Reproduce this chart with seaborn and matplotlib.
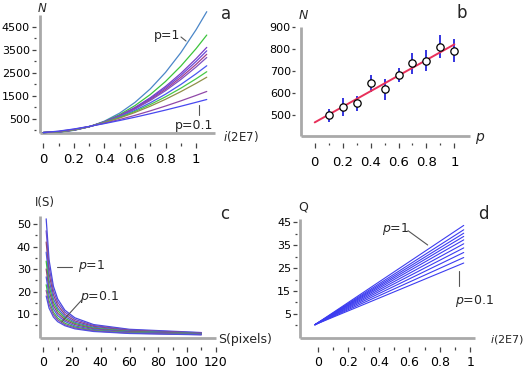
import numpy as np
import pandas as pd
import matplotlib
matplotlib.use("Agg")
import matplotlib.pyplot as plt
from matplotlib.lines import Line2D
import seaborn as sns

# ---------------- data ----------------
# panel a : N versus i (2E7) for several p
a_i = [0, 0.1, 0.2, 0.3, 0.4, 0.5, 0.6, 0.7, 0.8, 0.9, 1.0, 1.07]
a_N = [
    [-110, -92, -16, 138, 386, 737, 1203, 1791, 2510, 3367, 4368, 5155],
    [-110, -88, -8, 141, 366, 672, 1064, 1544, 2115, 2782, 3545, 4137],
    [-110, -85, -2, 143, 355, 634, 984, 1405, 1898, 2466, 3107, 3600],
    [-110, -84, -1, 144, 351, 623, 961, 1365, 1837, 2377, 2985, 3450],
    [-110, -83, 1, 144, 347, 611, 937, 1324, 1774, 2286, 2861, 3300],
    [-110, -82, 3, 145, 344, 600, 914, 1285, 1714, 2200, 2745, 3160],
    [-110, -79, 8, 146, 334, 570, 854, 1184, 1561, 1982, 2449, 2800],
    [-110, -76, 13, 148, 327, 547, 808, 1108, 1446, 1820, 2231, 2540],
    [-110, -72, 17, 149, 319, 525, 764, 1036, 1338, 1671, 2032, 2300],
    [-110, -60, 33, 153, 296, 458, 638, 834, 1045, 1269, 1507, 1680],
    [-110, -48, 45, 156, 280, 415, 558, 710, 869, 1035, 1207, 1330],
]
a_colors = ['#4a86c8', '#3cc43c', '#7a3cc8', '#6a48d8', '#a04090', '#8050c0',
            '#4858f0', '#48c848', '#909048', '#9048a8', '#4848f0']

# panel b : N versus p with error bars
b_p = [0.1, 0.2, 0.3, 0.4, 0.5, 0.6, 0.7, 0.8, 0.9, 1.0]
b_N = [501, 539, 554, 645, 618, 683, 736, 748, 812, 794]
b_err = [30, 42, 34, 38, 47, 30, 47, 47, 51, 53]

# panel c : I(S) versus S (pixels)
c_S = [2, 4, 7, 10, 15, 22, 35, 60, 110]
c_I = [
    [52.3, 34.1, 22.4, 16.7, 11.7, 8.3, 5.3, 3.2, 1.76],
    [47.0, 31.0, 20.5, 15.3, 10.8, 7.6, 4.9, 2.9, 1.62],
    [42.0, 27.9, 18.6, 13.9, 9.8, 6.9, 4.5, 2.7, 1.49],
    [37.5, 25.1, 16.8, 12.6, 8.9, 6.3, 4.1, 2.45, 1.36],
    [33.5, 22.6, 15.2, 11.5, 8.1, 5.8, 3.75, 2.24, 1.24],
    [30.0, 20.4, 13.8, 10.4, 7.4, 5.3, 3.43, 2.05, 1.14],
    [26.5, 18.2, 12.3, 9.3, 6.7, 4.7, 3.09, 1.85, 1.03],
    [23.0, 15.9, 10.8, 8.2, 5.9, 4.2, 2.74, 1.64, 0.91],
    [20.5, 14.3, 9.8, 7.4, 5.3, 3.8, 2.49, 1.49, 0.83],
    [18.0, 12.6, 8.7, 6.6, 4.8, 3.4, 2.23, 1.34, 0.75],
]
c_colors = ['#4848e0', '#6a50d0', '#904878', '#5058e0', '#40b840',
            '#904878', '#5058e0', '#40b840', '#9050a0', '#5050e0']

# panel d : Q versus i (2E7), straight lines
d_i = [-0.02, 0.957]
d_start = 0.3
d_end = [43.6, 41.7, 40.2, 38.8, 37.3, 35.6, 33.8, 31.8, 29.6, 27.2]

# tick labels
a_xt = [0, 0.2, 0.4, 0.6, 0.8, 1.0]
a_xl = ['0', '0.2', '0.4', '0.6', '0.8', '1']
a_yt = [500, 1500, 2500, 3500, 4500]
c_xt = [0, 20, 40, 60, 80, 100, 120]
c_yt = [10, 20, 30, 40, 50]
d_yt = [5, 15, 25, 35, 45]
b_yt = [500, 600, 700, 800, 900]

# ---------------- figure ----------------
sns.set_theme(style="white")
plt.rcParams['font.family'] = ['DejaVu Sans']
plt.rcParams['mathtext.fontset'] = 'dejavusans'

W, H = 524, 368
PT = 0.72
fig = plt.figure(figsize=(W / 100, H / 100), dpi=100)
fig.patch.set_facecolor('white')
AXC = '#a9a9a9'
TK = '#444444'


def make_ax(l, t, r, b, xlim, ylim):
    ax = fig.add_axes([l / W, 1 - b / H, (r - l) / W, (b - t) / H])
    ax.patch.set_alpha(0)
    for s in ax.spines.values():
        s.set_visible(False)
    ax.plot([0, 1], [0, 0], transform=ax.transAxes, color=AXC, lw=2,
            clip_on=False, solid_capstyle='butt', zorder=0)
    ax.plot([0, 0], [0, 1], transform=ax.transAxes, color=AXC, lw=2,
            clip_on=False, solid_capstyle='butt', zorder=0)
    ax.set_xlim(xlim)
    ax.set_ylim(ylim)
    return ax


def set_ticks(ax, xt, xl, xm, yt, yl, ym, xout, yout, xpad, ypad,
              xlen=5, ylen=4, xfs=9.5, yfs=8):
    ax.spines['bottom'].set_position(('outward', xout * PT))
    ax.spines['left'].set_position(('outward', yout * PT))
    ax.set_xticks(xt, xl)
    ax.set_xticks(xm, minor=True)
    ax.set_yticks(yt, yl)
    ax.set_yticks(ym, minor=True)
    ax.tick_params(axis='x', which='both', bottom=True, top=False,
                   direction='out', color=TK, width=0.9, labelcolor='black')
    ax.tick_params(axis='y', which='both', left=True, right=False,
                   direction='out', color=TK, width=0.9, labelcolor='black')
    ax.tick_params(axis='x', which='major', length=xlen * PT, pad=xpad * PT, labelsize=xfs)
    ax.tick_params(axis='x', which='minor', length=xlen * 0.55 * PT)
    ax.tick_params(axis='y', which='major', length=ylen * PT, pad=ypad * PT, labelsize=yfs)
    ax.tick_params(axis='y', which='minor', length=2 * PT)
    ax.set_xlabel('')
    ax.set_ylabel('')


def ftext(x, y, s, ha='center', va='center', **kw):
    fig.text(x / W, 1 - y / H, s, ha=ha, va=va, **kw)


def fline(x1, y1, x2, y2):
    fig.add_artist(Line2D([x1 / W, x2 / W], [1 - y1 / H, 1 - y2 / H],
                          color='#555555', lw=0.8))


# ---- panel a ----
axa = make_ax(40, 15, 215, 133, (-0.0216, 1.124), (-130, 5011))
dfa = pd.DataFrame([(x, v, f"p{k}") for k, row in enumerate(a_N)
                    for x, v in zip(a_i, row)], columns=['i', 'N', 'curve'])
order_a = [f"p{k}" for k in range(len(a_N))]
sns.lineplot(data=dfa, x='i', y='N', hue='curve', hue_order=order_a,
             palette=a_colors, estimator=None, legend=False, lw=0.9, ax=axa)
for ln in axa.lines[2:]:
    ln.set_clip_on(False)
set_ticks(axa, a_xt, a_xl, [0.1, 0.3, 0.5, 0.7, 0.9],
          a_yt, [str(v) for v in a_yt], [0, 1000, 2000, 3000, 4000],
          xout=10, yout=4, xpad=5, ypad=2)
axa.set_xlim(-0.0216, 1.124)
axa.set_ylim(-130, 5011)

# ---- panel b ----
axb = make_ax(301.3, 26.7, 470.3, 136, (-0.096, 1.114), (406, 903))
axb.errorbar(b_p, b_N, yerr=b_err, fmt='none', ecolor='#3535e0',
             elinewidth=1.4, capsize=0, zorder=2)
slope, icpt = np.polyfit(b_p, b_N, 1)
fit = pd.DataFrame({'p': [0.0, 1.0]})
fit['N'] = icpt + slope * fit['p']
sns.lineplot(data=fit, x='p', y='N', color='#e8305a', lw=1.4, ax=axb, zorder=3)
sns.scatterplot(x=b_p, y=b_N, s=28, facecolor='white', edgecolor='black',
                linewidth=0.9, zorder=4, ax=axb)
set_ticks(axb, a_xt, a_xl, [0.1, 0.3, 0.5, 0.7, 0.9],
          b_yt, [str(v) for v in b_yt], [],
          xout=6.7, yout=6, xpad=9, ypad=1, xlen=4.5, ylen=3.5)
axb.set_xlim(-0.096, 1.114)
axb.set_ylim(406, 903)

# ---- panel c ----
axc = make_ax(40, 215.7, 216, 338.3, (-2.3, 120.2), (-0.8, 53.7))
dfc = pd.DataFrame([(s, v, f"p{k}") for k, row in enumerate(c_I)
                    for s, v in zip(c_S, row)], columns=['S', 'I', 'curve'])
order_c = [f"p{k}" for k in range(len(c_I))]
sns.lineplot(data=dfc, x='S', y='I', hue='curve', hue_order=order_c,
             palette=c_colors, estimator=None, legend=False, lw=0.9, ax=axc)
set_ticks(axc, c_xt, [str(v) for v in c_xt], [10, 30, 50, 70, 90, 110],
          c_yt, [str(v) for v in c_yt], [5, 15, 25, 35, 45],
          xout=9, yout=3, xpad=3.2, ypad=2, xfs=9)
axc.set_xlim(-2.3, 120.2)
axc.set_ylim(-0.8, 53.7)

# ---- panel d ----
axd = make_ax(300.3, 219, 475.3, 338, (-0.116, 1.033), (-5.5, 46.4))
dfd = pd.DataFrame([(x, v, f"p{k}") for k, e in enumerate(d_end)
                    for x, v in zip(d_i, [d_start, e])], columns=['i', 'Q', 'curve'])
order_d = [f"p{k}" for k in range(len(d_end))]
sns.lineplot(data=dfd, x='i', y='Q', hue='curve', hue_order=order_d,
             palette=['#3c3cf0'] * len(d_end), estimator=None, legend=False,
             lw=0.8, ax=axd)
set_ticks(axd, a_xt, a_xl, [0.1, 0.3, 0.5, 0.7, 0.9],
          d_yt, [str(v) for v in d_yt], [0, 10, 20, 30, 40],
          xout=9.3, yout=3, xpad=3.4, ypad=2, xfs=9)
axd.set_xlim(-0.116, 1.033)
axd.set_ylim(-5.5, 46.4)

# ---- texts ----
# panel a
ftext(41.7, 8, 'N', fontsize=8.5, style='italic')
ftext(226, 14, 'a', fontsize=12)
ftext(223, 137, r'$i$(2E7)', ha='left', fontsize=8.5)
ftext(167, 35, 'p=1', fontsize=9)
fline(181, 37, 186, 41)
ftext(194, 125, 'p=0.1', fontsize=9)
fline(199, 105, 199, 115)
# panel b
ftext(303.5, 15.3, 'N', fontsize=9, style='italic')
ftext(462, 13.3, 'b', fontsize=12)
ftext(479.5, 137, 'p', fontsize=10, style='italic')
# panel c
ftext(45, 203, 'I(S)', fontsize=8.5)
ftext(225, 214, 'c', fontsize=12)
ftext(218, 339, 'S(pixels)', ha='left', fontsize=9)
fline(56.7, 266.5, 71.7, 266.5)
ftext(77.5, 266, r'$p$=1', ha='left', fontsize=9)
ftext(80, 297, r'$p$=0.1', ha='left', fontsize=9)
fline(81.7, 300, 61.7, 322)
# panel d
ftext(303, 207, 'Q', fontsize=9)
ftext(483.7, 214, 'd', fontsize=12)
ftext(490, 339, r'$i$(2E7)', ha='left', fontsize=8)
ftext(381.5, 229, r'$p$=1', ha='left', fontsize=9)
fline(408, 230.7, 427.7, 245)
ftext(455, 301, r'$p$=0.1', ha='left', fontsize=9)
fline(459.3, 270.7, 459.3, 285.7)

fig.savefig('out.png', dpi=100, facecolor='white')
